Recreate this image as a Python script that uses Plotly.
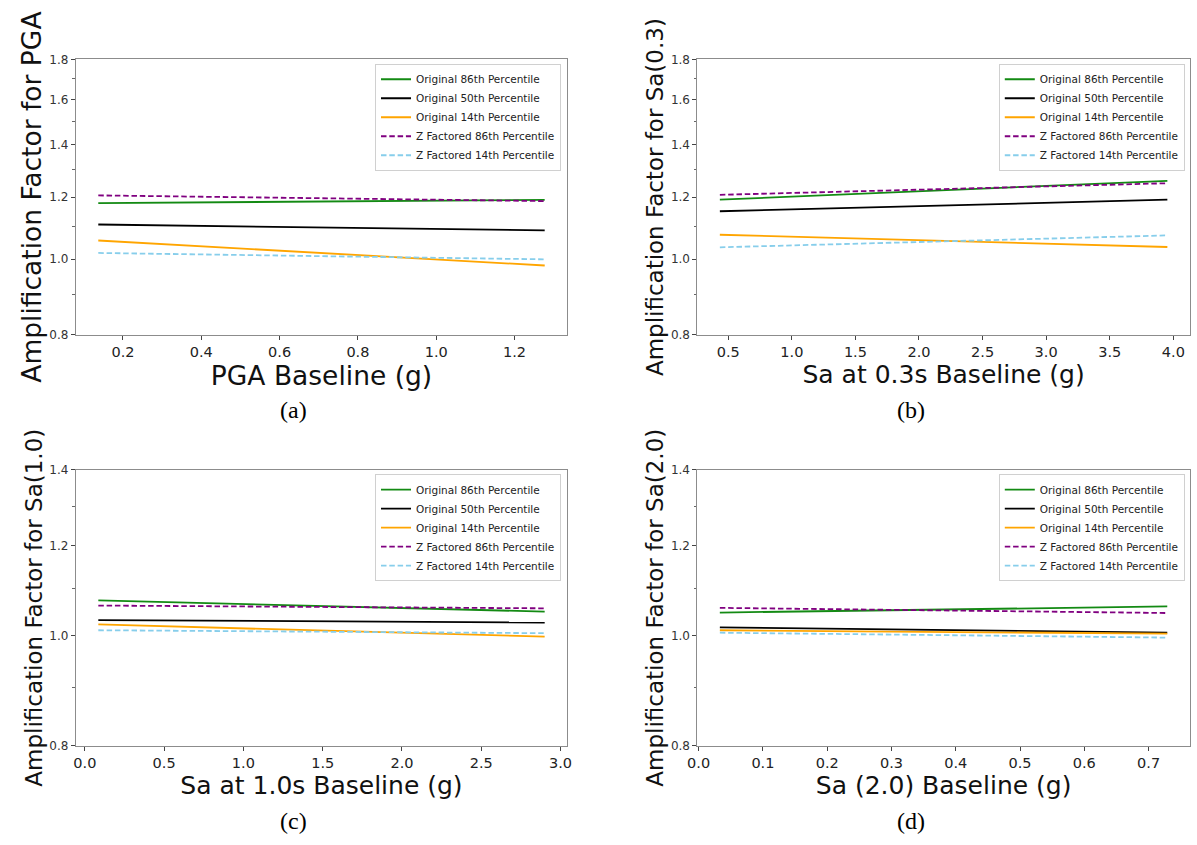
import math
import plotly.graph_objects as go

# ---------------- data ----------------
series_names = [
    "Original 86th Percentile",
    "Original 50th Percentile",
    "Original 14th Percentile",
    "Z Factored 86th Percentile",
    "Z Factored 14th Percentile",
]

pga_x = [0.137, 1.277]
pga_orig86 = [1.179, 1.190]
pga_orig50 = [1.107, 1.088]
pga_orig14 = [1.056, 0.981]
pga_z86 = [1.206, 1.186]
pga_z14 = [1.018, 0.999]

sa03_x = [0.434, 3.953]
sa03_orig86 = [1.191, 1.259]
sa03_orig50 = [1.151, 1.191]
sa03_orig14 = [1.074, 1.036]
sa03_z86 = [1.208, 1.250]
sa03_z14 = [1.035, 1.072]

sa10_x = [0.085, 2.90]
sa10_orig86 = [1.074, 1.050]
sa10_orig50 = [1.032, 1.027]
sa10_orig14 = [1.023, 0.998]
sa10_z86 = [1.063, 1.057]
sa10_z14 = [1.011, 1.005]

sa20_x = [0.033, 0.729]
sa20_orig86 = [1.048, 1.061]
sa20_orig50 = [1.017, 1.006]
sa20_orig14 = [1.011, 1.004]
sa20_z86 = [1.058, 1.047]
sa20_z14 = [1.006, 0.996]

x_titles = ["PGA Baseline (g)", "Sa at 0.3s Baseline (g)", "Sa at 1.0s Baseline (g)", "Sa (2.0) Baseline (g)"]
y_titles = ["Amplification Factor for PGA", "Amplification Factor for Sa(0.3)",
            "Amplification Factor for Sa(1.0)", "Amplification Factor for Sa(2.0)"]
panel_labels = ["(a)", "(b)", "(c)", "(d)"]

y_ticks_top = [0.8, 1.0, 1.2, 1.4, 1.6, 1.8]
y_minor_top = [0.9, 1.1, 1.3, 1.5, 1.7]
y_ticks_bot = [0.8, 1.0, 1.2, 1.4]
y_minor_bot = [0.9, 1.1, 1.3]

# ---------------- styling ----------------
line_styles = [
    dict(color="#138a13", width=1.8, dash="solid"),
    dict(color="#000000", width=1.8, dash="solid"),
    dict(color="#ffa500", width=1.8, dash="solid"),
    dict(color="#800080", width=1.8, dash="5.5px,2.8px"),
    dict(color="#87ceeb", width=1.8, dash="5.5px,2.8px"),
]

W, H = 1197, 845
panels = [
    dict(x=pga_x, ys=[pga_orig86, pga_orig50, pga_orig14, pga_z86, pga_z14],
         px=(66.8, 564.1), py=(53.3, 333.3), xr=[0.08, 1.334], dtick=0.2, tick0=0.2,
         yr=(0.8, 1.8), yt=y_ticks_top, ym=y_minor_top, xts=26.5, yts=26.5,
         leg=(558, 57.7), lab=(287, 410)),
    dict(x=sa03_x, ys=[sa03_orig86, sa03_orig50, sa03_orig14, sa03_z86, sa03_z14],
         px=(696.2, 1194.7), py=(53.3, 333.3), xr=[0.258, 4.129], dtick=0.5, tick0=0.5,
         yr=(0.8, 1.8), yt=y_ticks_top, ym=y_minor_top, xts=25, yts=23,
         leg=(1189.7, 57.7), lab=(912, 410)),
    dict(x=sa10_x, ys=[sa10_orig86, sa10_orig50, sa10_orig14, sa10_z86, sa10_z14],
         px=(66.8, 564.1), py=(470.7, 751.0), xr=[-0.056, 3.041], dtick=0.5, tick0=0.0,
         yr=(0.8, 1.4), yt=y_ticks_bot, ym=y_minor_bot, xts=25, yts=23,
         leg=(558, 475), lab=(287, 828)),
    dict(x=sa20_x, ys=[sa20_orig86, sa20_orig50, sa20_orig14, sa20_z86, sa20_z14],
         px=(696.2, 1194.7), py=(470.7, 751.0), xr=[-0.0018, 0.764], dtick=0.1, tick0=0.0,
         yr=(0.8, 1.4), yt=y_ticks_bot, ym=y_minor_bot, xts=25, yts=23,
         leg=(1189.7, 475), lab=(912, 828)),
]

fig = go.Figure()
layout = dict(
    width=W, height=H,
    margin=dict(l=0, r=0, t=0, b=0),
    paper_bgcolor="white", plot_bgcolor="white",
    font=dict(family="DejaVu Sans", color="#111"),
    showlegend=True,
    annotations=[],
)

for i, p in enumerate(panels):
    k = "" if i == 0 else str(i + 1)
    legname = "legend" + k
    for name, yv, st in zip(series_names, p["ys"], line_styles):
        fig.add_trace(go.Scatter(
            x=p["x"], y=yv, mode="lines", name=name, line=st,
            xaxis="x" + k, yaxis="y" + k, legend=legname,
        ))
    layout["xaxis" + k] = dict(
        domain=[p["px"][0] / W, p["px"][1] / W],
        anchor="y" + k,
        range=p["xr"],
        tickmode="linear", tick0=p["tick0"], dtick=p["dtick"], tickformat=".1f",
        ticks="outside", ticklen=4, tickwidth=1, tickcolor="#444",
        showline=True, linecolor="#8c8c8c", linewidth=1.2, mirror=True,
        showgrid=False, zeroline=False,
        tickfont=dict(size=14.5, color="#222"),
        title=dict(text=x_titles[i], font=dict(size=p["xts"], color="#111"), standoff=1),
    )
    layout["yaxis" + k] = dict(
        domain=[1 - p["py"][1] / H, 1 - p["py"][0] / H],
        anchor="x" + k,
        type="log",
        range=[math.log10(p["yr"][0]), math.log10(p["yr"][1])],
        tickmode="array", tickvals=p["yt"], ticktext=["%.1f" % v for v in p["yt"]],
        ticks="outside", ticklen=4, tickwidth=1, tickcolor="#444",
        minor=dict(tickmode="array", tickvals=p["ym"], ticks="outside", ticklen=2.5,
                   tickcolor="#666", showgrid=False),
        showline=True, linecolor="#8c8c8c", linewidth=1.2, mirror=True,
        showgrid=False, zeroline=False,
        tickfont=dict(size=12, color="#333"),
        title=dict(text=y_titles[i], font=dict(size=p["yts"], color="#111"), standoff=0),
    )
    layout[legname] = dict(
        x=p["leg"][0] / W, y=1 - p["leg"][1] / H, xref="paper", yref="paper",
        xanchor="right", yanchor="top",
        bgcolor="rgba(255,255,255,0.85)", bordercolor="#d0d0d0", borderwidth=1,
        font=dict(size=10.5, color="#222", family="DejaVu Sans"),
        tracegroupgap=0,
    )
    layout["annotations"].append(dict(
        text=panel_labels[i], x=p["lab"][0] / W, y=1 - p["lab"][1] / H,
        xref="paper", yref="paper", xanchor="center", yanchor="middle",
        showarrow=False, font=dict(family="Liberation Serif", size=24, color="#000"),
    ))

fig.update_layout(**layout)
fig.write_html("out.html")
